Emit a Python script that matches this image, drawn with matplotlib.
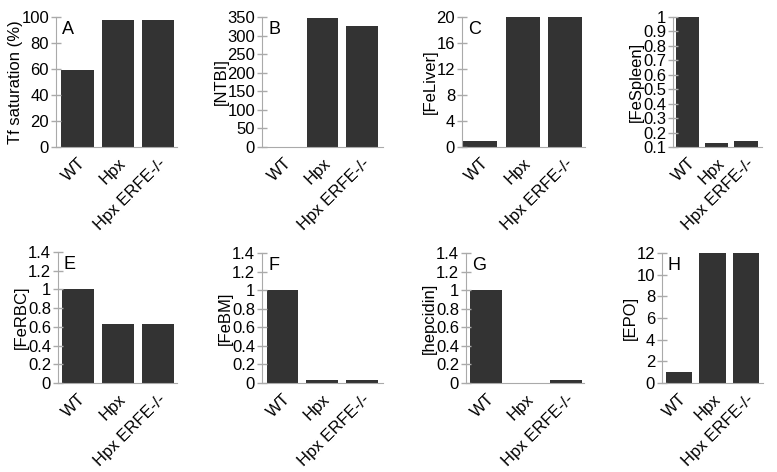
import matplotlib
matplotlib.use("Agg")
import matplotlib.pyplot as plt

plt.rcParams['font.family'] = ['Liberation Sans', 'DejaVu Sans']

# groups shown on every panel
groups = ["WT", "Hpx", "Hpx ERFE-/-"]

# panel values
tf_sat = [59.5, 98, 98]
ntbi = [1, 348, 327]
fe_liver = [1, 20, 20]
fe_spleen = [1, 0.128, 0.14]
fe_rbc = [1, 0.63, 0.63]
fe_bm = [1, 0.03, 0.03]
hepcidin = [1, 0.003, 0.03]
epo = [1, 12, 12]

panel_letters = ["A", "B", "C", "", "E", "F", "G", "H"]
ylabels = ["Tf saturation (%)", "[NTBI]", "[FeLiver]", "[FeSpleen]",
           "[FeRBC]", "[FeBM]", "[hepcidin]", "[EPO]"]
series = [tf_sat, ntbi, fe_liver, fe_spleen, fe_rbc, fe_bm, hepcidin, epo]
ylims = [(0, 100), (0, 350), (0, 20), (0.1, 1), (0, 1.4), (0, 1.4), (0, 1.4), (0, 12)]
yticks = [
    [0, 20, 40, 60, 80, 100],
    [0, 50, 100, 150, 200, 250, 300, 350],
    [0, 4, 8, 12, 16, 20],
    [0.1, 0.2, 0.3, 0.4, 0.5, 0.6, 0.7, 0.8, 0.9, 1],
    [0, 0.2, 0.4, 0.6, 0.8, 1, 1.2, 1.4],
    [0, 0.2, 0.4, 0.6, 0.8, 1, 1.2, 1.4],
    [0, 0.2, 0.4, 0.6, 0.8, 1, 1.2, 1.4],
    [0, 2, 4, 6, 8, 10, 12],
]

# axes boxes in pixels: left, right, top, bottom
boxes = [
    (56, 177, 17, 147), (262, 383, 17, 147), (462, 585, 17, 147), (673, 762, 17, 147),
    (58, 177, 252, 383), (262, 383, 253, 383), (466, 584, 253, 383), (662, 763, 253, 383),
]
xlims = [(-0.53, 2.47), (-0.54, 2.53), (-0.43, 2.47), (-0.5, 2.55),
         (-0.5, 2.48), (-0.52, 2.53), (-0.51, 2.44), (-0.51, 2.51)]


def fmt(v):
    return "%g" % v


W, H = 777, 472
fig = plt.figure(figsize=(W / 100, H / 100), dpi=100)

for i in range(8):
    l, r, t, b = boxes[i]
    ax = fig.add_axes([l / W, 1 - b / H, (r - l) / W, (b - t) / H])
    lo = ylims[i][0]
    ax.bar(range(3), [v - lo for v in series[i]], bottom=lo, width=0.8, color="#333333")
    ax.set_xlim(*xlims[i])
    ax.set_ylim(*ylims[i])
    ax.set_yticks(yticks[i])
    ax.set_yticklabels([fmt(v) for v in yticks[i]])
    ax.set_xticks(range(3))
    ax.set_xticklabels(groups, rotation=45, ha="right", rotation_mode="anchor")
    ax.tick_params(axis="x", length=0, pad=6, labelsize=12)
    ax.tick_params(axis="y", direction="inout", length=7, width=1, color="#aaaaaa",
                   pad=1.5, labelsize=12)
    for s in ["top", "right"]:
        ax.spines[s].set_visible(False)
    for s in ["left", "bottom"]:
        ax.spines[s].set_color("#aaaaaa")
    ax.set_ylabel(ylabels[i], fontsize=12, labelpad=-1)
    if panel_letters[i]:
        ax.text(0.05, 0.97, panel_letters[i], transform=ax.transAxes,
                ha="left", va="top", fontsize=13)

fig.savefig("out.png", dpi=100)
